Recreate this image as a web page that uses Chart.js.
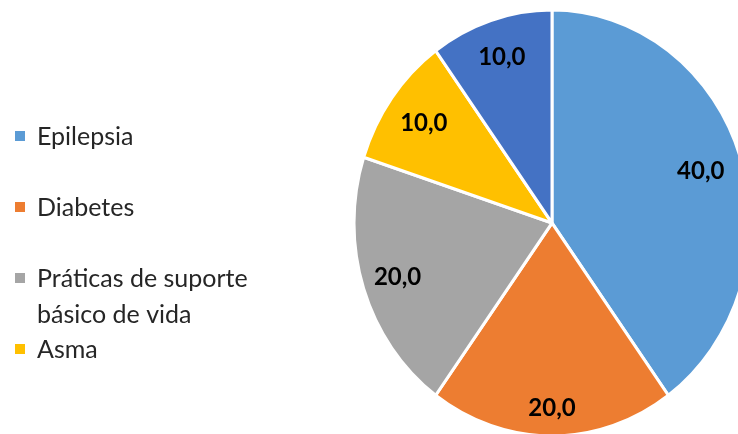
<!DOCTYPE html>
<html>
<head>
<meta charset="utf-8">
<script src="https://cdn.jsdelivr.net/npm/chart.js@4/dist/chart.umd.min.js"></script>
<style>
  html, body { margin: 0; padding: 0; background: #fff; overflow: hidden; width: 738px; height: 434px; }
  #wrap { position: absolute; left: 0; top: 0; width: 760px; height: 434px; }
</style>
</head>
<body>
<div id="wrap"><canvas id="c"></canvas></div>
<script>
const categories = ['Epilepsia', 'Diabetes', ['Práticas de suporte', 'básico de vida'], 'Asma', 'Outros'];
const values = [40, 20, 20, 10, 10];
const valueLabels = ['40,0', '20,0', '20,0', '10,0', '10,0'];
const colors = ['#5B9BD5', '#ED7D31', '#A5A5A5', '#FFC000', '#4472C4'];
const legendCount = 4;

const SY = 1.076;

const squashPlugin = {
  id: 'squash',
  beforeDatasetsDraw(chart) {
    const arc = chart.getDatasetMeta(0).data[0];
    const ctx = chart.ctx;
    ctx.save();
    ctx.translate(arc.x, arc.y);
    ctx.scale(1, SY);
    ctx.translate(-arc.x, -arc.y);
  },
  afterDatasetsDraw(chart) {
    chart.ctx.restore();
  }
};

const valueLabelPlugin = {
  id: 'valueLabels',
  afterDatasetsDraw(chart, args, opts) {
    const ctx = chart.ctx;
    const meta = chart.getDatasetMeta(0);
    ctx.save();
    ctx.font = 'bold 24px Lato, "Open Sans", sans-serif';
    ctx.fillStyle = '#000';
    ctx.textAlign = 'center';
    ctx.textBaseline = 'middle';
    meta.data.forEach((arc, i) => {
      const mid = (arc.startAngle + arc.endAngle) / 2;
      const f = opts.fractions[i];
      const x = arc.x + Math.cos(mid) * arc.outerRadius * f;
      const y = arc.y + Math.sin(mid) * arc.outerRadius * f * SY;
      ctx.fillText(valueLabels[i], x, y);
    });
    ctx.restore();
  }
};

const sideLegendPlugin = {
  id: 'sideLegend',
  afterDraw(chart, args, opts) {
    const ctx = chart.ctx;
    ctx.save();
    ctx.font = '25px Lato, "Open Sans", sans-serif';
    ctx.textBaseline = 'alphabetic';
    ctx.textAlign = 'left';
    for (let i = 0; i < legendCount; i++) {
      const base = opts.baselines[i];
      ctx.fillStyle = colors[i];
      ctx.fillRect(opts.boxX, base - 14, 10, 10);
      ctx.fillStyle = '#262626';
      const lines = Array.isArray(categories[i]) ? categories[i] : [categories[i]];
      lines.forEach((t, k) => {
        ctx.fillText(t, opts.textX, base + k * opts.lineHeight);
      });
    }
    ctx.restore();
  }
};

new Chart(document.getElementById('c'), {
  type: 'pie',
  data: {
    labels: categories,
    datasets: [{
      data: values,
      backgroundColor: colors,
      borderColor: '#ffffff',
      borderWidth: 3,
      hoverOffset: 0
    }]
  },
  options: {
    responsive: true,
    maintainAspectRatio: false,
    animation: false,
    radius: 198,
    layout: { padding: { left: 355, right: 11, top: 26, bottom: 14 } },
    plugins: {
      legend: { display: false },
      tooltip: { enabled: false },
      valueLabels: { fractions: [0.79, 0.87, 0.82, 0.8, 0.82] },
      sideLegend: { baselines: [145, 216, 287, 358], lineHeight: 36, boxX: 15, textX: 37 }
    }
  },
  plugins: [squashPlugin, valueLabelPlugin, sideLegendPlugin]
});
</script>
</body>
</html>
